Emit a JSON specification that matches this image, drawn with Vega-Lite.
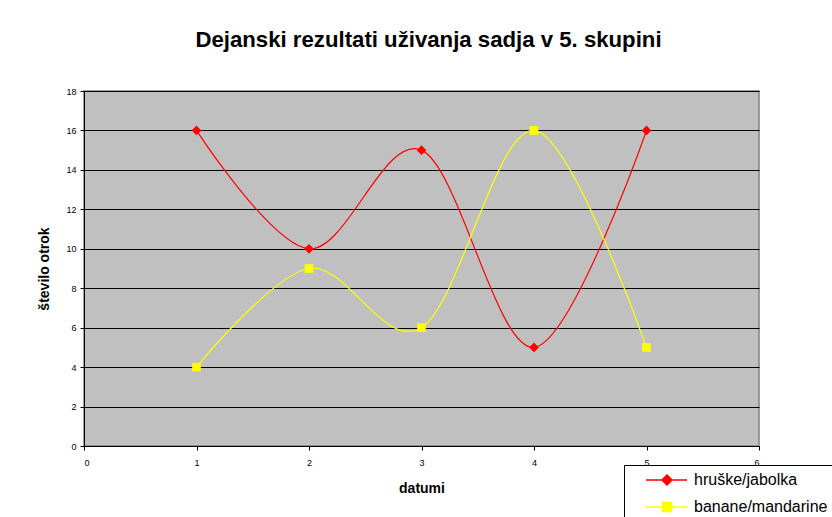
{
  "$schema": "https://vega.github.io/schema/vega-lite/v6.json",
  "width": 675,
  "height": 355,
  "autosize": "none",
  "padding": {"left": 84, "top": 91, "right": 73, "bottom": 71},
  "background": "white",
  "title": {
    "text": "Dejanski rezultati uživanja sadja v 5. skupini",
    "font": "Liberation Sans",
    "fontSize": 22.2,
    "fontWeight": "bold",
    "color": "black",
    "anchor": "middle",
    "dx": 7,
    "offset": 36
  },
  "data": {
    "values": [
      {"x": 1, "y": 16, "series": "hruške/jabolka"},
      {"x": 2, "y": 10, "series": "hruške/jabolka"},
      {"x": 3, "y": 15, "series": "hruške/jabolka"},
      {"x": 4, "y": 5, "series": "hruške/jabolka"},
      {"x": 5, "y": 16, "series": "hruške/jabolka"},
      {"x": 1, "y": 4, "series": "banane/mandarine"},
      {"x": 2, "y": 9, "series": "banane/mandarine"},
      {"x": 3, "y": 6, "series": "banane/mandarine"},
      {"x": 4, "y": 16, "series": "banane/mandarine"},
      {"x": 5, "y": 5, "series": "banane/mandarine"}
    ]
  },
  "encoding": {
    "x": {
      "field": "x",
      "type": "quantitative",
      "scale": {"domain": [0, 6], "nice": false, "zero": false},
      "axis": {
        "title": "datumi",
        "values": [0, 1, 2, 3, 4, 5, 6],
        "grid": false,
        "labelPadding": 8,
        "titlePadding": 14
      }
    },
    "y": {
      "field": "y",
      "type": "quantitative",
      "scale": {"domain": [0, 18], "nice": false},
      "axis": {
        "title": "število otrok",
        "values": [0, 2, 4, 6, 8, 10, 12, 14, 16, 18],
        "grid": true,
        "labelPadding": 4,
        "titlePadding": 14
      }
    }
  },
  "layer": [
    {
      "mark": {"type": "line", "interpolate": "cardinal", "strokeWidth": 1.2},
      "encoding": {
        "stroke": {
          "field": "series",
          "type": "nominal",
          "scale": {"domain": ["hruške/jabolka", "banane/mandarine"], "range": ["#FF0000", "#FFFF00"]}
        }
      }
    },
    {
      "transform": [{"filter": "datum.series == 'hruške/jabolka'"}],
      "mark": {"type": "point", "shape": "diamond", "filled": true, "color": "#FF0000", "size": 95, "opacity": 1}
    },
    {
      "transform": [{"filter": "datum.series == 'banane/mandarine'"}],
      "mark": {"type": "point", "shape": "square", "filled": true, "color": "#FFFF00", "size": 75, "opacity": 1}
    },
    {
      "mark": {"type": "point", "filled": true, "opacity": 0},
      "encoding": {
        "shape": {
          "field": "series",
          "type": "nominal",
          "scale": {
            "domain": ["hruške/jabolka", "banane/mandarine"],
            "range": [
              "M1.167,0L8,0M4.667,-0.833L5.5,0L4.667,0.833L3.833,0ZM4.667,-0.583L5.25,0L4.667,0.583L4.083,0ZM4.667,-0.35L5.017,0L4.667,0.35L4.317,0ZM4.667,-0.12L4.787,0L4.667,0.12L4.547,0Z",
              "M1.167,0L8,0M3.917,-0.75L5.417,-0.75L5.417,0.75L3.917,0.75ZM4.15,-0.517L5.183,-0.517L5.183,0.517L4.15,0.517ZM4.367,-0.3L4.967,-0.3L4.967,0.3L4.367,0.3ZM4.567,-0.1L4.767,-0.1L4.767,0.1L4.567,0.1Z"
            ]
          },
          "legend": {
            "title": null,
            "orient": "none",
            "legendX": 540,
            "legendY": 374,
            "strokeColor": "black",
            "fillColor": "white",
            "padding": 7,
            "symbolSize": 144,
            "symbolStrokeWidth": 1.5,
            "symbolOpacity": 1,
            "labelOffset": 47,
            "rowPadding": 11,
            "labelFont": "Liberation Sans",
            "labelFontSize": 16,
            "labelColor": "black",
            "labelLimit": 400,
            "encode": {
              "symbols": {
                "update": {
                  "fill": {"scale": "fill", "field": "value"},
                  "fillOpacity": {"value": 1},
                  "opacity": {"value": 1}
                }
              }
            }
          }
        },
        "fill": {
          "field": "series",
          "type": "nominal",
          "scale": {"domain": ["hruške/jabolka", "banane/mandarine"], "range": ["#FF0000", "#FFFF00"]}
        },
        "stroke": {
          "field": "series",
          "type": "nominal",
          "scale": {"domain": ["hruške/jabolka", "banane/mandarine"], "range": ["#FF0000", "#FFFF00"]}
        }
      }
    }
  ],
  "config": {
    "view": {"fill": "#C0C0C0", "stroke": "#808080", "strokeWidth": 1.5},
    "axis": {
      "labelFont": "Liberation Sans",
      "labelFontSize": 9,
      "labelColor": "black",
      "titleFont": "Liberation Sans",
      "titleFontSize": 14,
      "titleFontWeight": "bold",
      "titleColor": "black",
      "domainColor": "black",
      "domainWidth": 1,
      "tickColor": "black",
      "tickSize": 4,
      "gridColor": "black",
      "gridWidth": 1,
      "gridOpacity": 1
    }
  }
}
